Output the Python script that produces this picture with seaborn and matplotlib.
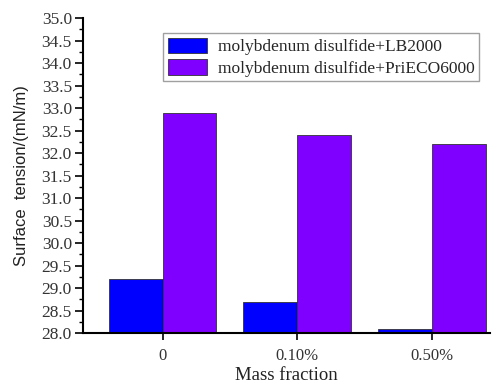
import matplotlib
matplotlib.use("Agg")
import matplotlib.pyplot as plt
import seaborn as sns
import pandas as pd
from matplotlib.ticker import MultipleLocator, FuncFormatter

categories = ["0", "0.10%", "0.50%"]
series_names = ["molybdenum disulfide+LB2000", "molybdenum disulfide+PriECO6000"]
lb2000 = [29.2, 28.7, 28.08]
prieco6000 = [32.9, 32.4, 32.2]

df = pd.DataFrame({
    "Mass fraction": categories * 2,
    "value": lb2000 + prieco6000,
    "series": [series_names[0]] * 3 + [series_names[1]] * 3,
})

sns.set_theme(style="white")
plt.rcParams["font.family"] = ["Liberation Serif", "DejaVu Serif"]

fig = plt.figure(figsize=(4.94, 3.85), dpi=100)
ax = fig.add_axes([0.168, 0.135, 0.824, 0.818])

palette = ["#0000FF", "#8000FF"]
sns.barplot(data=df, x="Mass fraction", y="value", hue="series", palette=palette,
            width=0.8, edgecolor="#333333", linewidth=0.6, saturation=1,
            ax=ax)

ax.set_ylim(28.0, 35.0)
ax.set_xlim(-0.59, 2.43)
ax.yaxis.set_major_locator(MultipleLocator(0.5))
ax.yaxis.set_minor_locator(MultipleLocator(0.25))
ax.yaxis.set_major_formatter(FuncFormatter(lambda v, p: f"{v:.1f}"))

for s in ["top", "right"]:
    ax.spines[s].set_visible(False)
for s in ["left", "bottom"]:
    ax.spines[s].set_color("black")
    ax.spines[s].set_linewidth(1.5)

ax.tick_params(axis="y", which="major", direction="out", length=6, width=1.2,
               labelsize=12.5, left=True, color="black", labelcolor="#333333", pad=2)
ax.tick_params(axis="y", which="minor", direction="out", length=3, width=1.0,
               left=True, color="black")
ax.tick_params(axis="x", which="major", direction="out", length=5, width=1.2,
               labelsize=12, bottom=True, color="black", labelcolor="#333333", pad=6)

ax.set_xlabel("Mass fraction", fontsize=13.5, color="#222222", labelpad=2)
ax.set_ylabel("Surface  tension/(mN/m)", fontsize=12, color="#222222", labelpad=9,
              family=["Liberation Sans", "DejaVu Sans"])

leg = ax.legend(loc="upper left", bbox_to_anchor=(0.197, 0.952), fontsize=12.5,
                frameon=True, fancybox=False, edgecolor="#888888",
                handlelength=2.3, handleheight=1.0, borderpad=0.25,
                labelspacing=0.22, handletextpad=0.6, borderaxespad=0)
leg.get_frame().set_linewidth(1.0)
leg.set_title(None)

fig.savefig("out.png", dpi=100)
